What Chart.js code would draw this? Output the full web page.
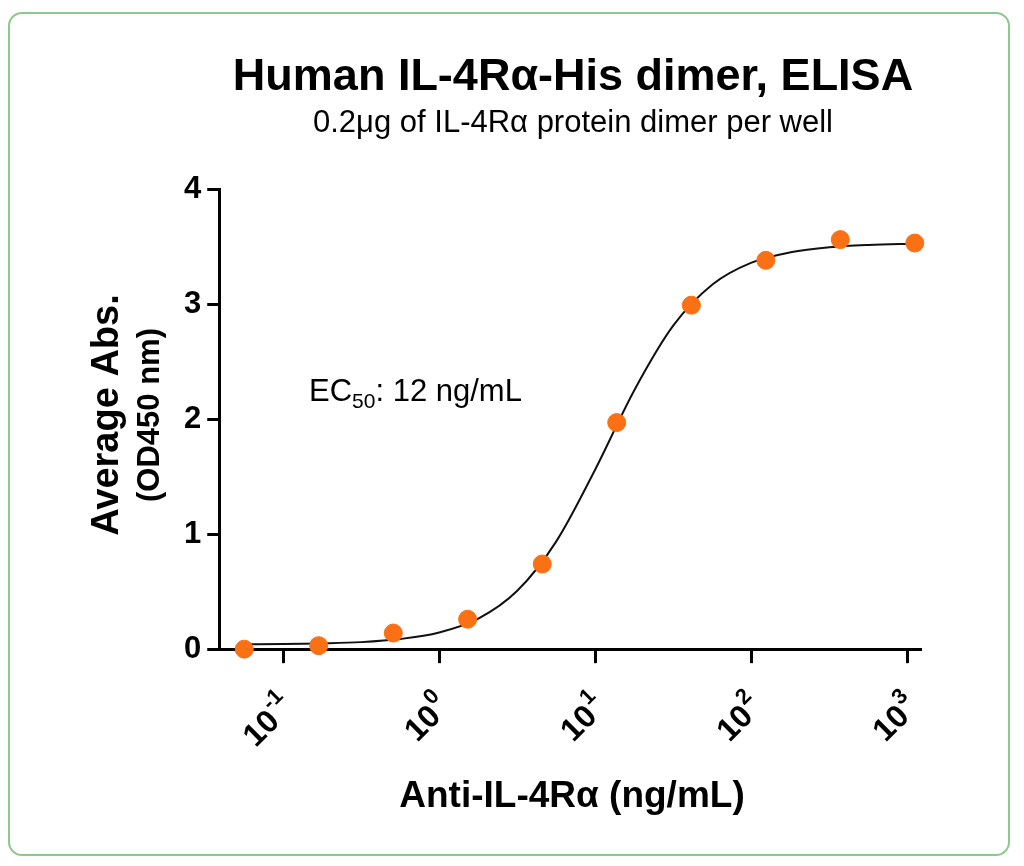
<!DOCTYPE html>
<html>
<head>
<meta charset="utf-8">
<script src="https://cdn.jsdelivr.net/npm/chart.js@4.4.1/dist/chart.umd.min.js"></script>
<style>
  html, body { margin: 0; padding: 0; background: #fff; }
  #card { position: absolute; left: 8px; top: 12px; width: 998px; height: 840px;
          border: 2px solid #8cc98c; border-radius: 14px; }
  #wrap { position: absolute; left: 0; top: 0; width: 1024px; height: 866px; }
</style>
</head>
<body>
<div id="card"></div>
<div id="wrap"><canvas id="elisa" width="1024" height="866"></canvas></div>
<script>
// measured points (ng/mL, OD450)
const conc = [0.0564, 0.169, 0.508, 1.52, 4.57, 13.7, 41.2, 123.5, 370.4, 1111.1];
const absorb = [0.00, 0.03, 0.14, 0.26, 0.74, 1.97, 2.99, 3.38, 3.56, 3.53];

// fitted curve
const fitX = [0.0562, 0.1, 0.178, 0.316, 0.562, 1, 1.78, 3.16, 5.62, 10, 17.8, 31.6, 56.2, 100, 178, 316, 562, 1122];
const fitY = [0.042, 0.044, 0.050, 0.061, 0.088, 0.145, 0.265, 0.507, 0.937, 1.564, 2.253, 2.814, 3.17, 3.36, 3.45, 3.494, 3.514, 3.525];

const xTicks = [0.1, 1, 10, 100, 1000];
const xTickExp = ['-1', '0', '1', '2', '3'];
const yTicks = [0, 1, 2, 3, 4];

const FONT = '"Liberation Sans", Arial, sans-serif';

// texts drawn by hand: titles, axis titles, x tick labels, EC50 note
const textPlugin = {
    id: 'texts',
    afterDraw(chart) {
        const ctx = chart.ctx;
        ctx.save();
        ctx.fillStyle = '#000';
        ctx.textAlign = 'center';
        ctx.textBaseline = 'middle';
        ctx.font = 'bold 45px ' + FONT;
        ctx.fillText('Human IL-4Rα-His dimer, ELISA', 573, 78);
        ctx.font = '31px ' + FONT;
        ctx.fillText('0.2μg of IL-4Rα protein dimer per well', 573, 123);
        ctx.font = 'bold 37px ' + FONT;
        ctx.fillText('Anti-IL-4Rα (ng/mL)', 572, 797);

        ctx.save();
        ctx.translate(108, 415);
        ctx.rotate(-Math.PI / 2);
        ctx.font = 'bold 38px ' + FONT;
        ctx.fillText('Average Abs.', 0, 0);
        ctx.font = 'bold 31px ' + FONT;
        ctx.fillText('(OD450 nm)', 0, 42);
        ctx.restore();

        // x tick labels with superscripts
        const xs = chart.scales.x;
        xTicks.forEach((v, i) => {
            const px = xs.getPixelForValue(v);
            ctx.save();
            ctx.translate(px + 4, 700);
            ctx.rotate(-Math.PI / 4);
            ctx.textAlign = 'right';
            ctx.textBaseline = 'alphabetic';
            ctx.font = 'bold 22px ' + FONT;
            const ew = ctx.measureText(xTickExp[i]).width;
            ctx.fillText(xTickExp[i], 0, -4);
            ctx.font = 'bold 32px ' + FONT;
            ctx.fillText('10', -ew - 1, 12);
            ctx.restore();
        });

        // EC50 label
        ctx.textAlign = 'left';
        ctx.font = '31px ' + FONT;
        let x = 309;
        ctx.fillText('EC', x, 392);
        x += ctx.measureText('EC').width;
        ctx.font = '21px ' + FONT;
        ctx.fillText('50', x, 402);
        x += ctx.measureText('50').width;
        ctx.font = '31px ' + FONT;
        ctx.fillText(': 12 ng/mL', x, 392);
        ctx.restore();
    }
};

new Chart(document.getElementById('elisa').getContext('2d'), {
    type: 'scatter',
    data: {
        datasets: [{
            type: 'line',
            data: fitX.map((v, i) => ({ x: v, y: fitY[i] })),
            borderColor: '#111',
            borderWidth: 2,
            pointRadius: 0,
            tension: 0.4,
            cubicInterpolationMode: 'monotone',
            order: 2
        }, {
            data: conc.map((v, i) => ({ x: v, y: absorb[i] })),
            backgroundColor: '#fa7014',
            borderColor: '#fa7014',
            pointRadius: 9,
            clip: false,
            order: 1
        }]
    },
    options: {
        responsive: false,
        animation: false,
        layout: { padding: { left: 178, right: 104, top: 189, bottom: 132 } },
        plugins: { legend: { display: false }, tooltip: { enabled: false } },
        scales: {
            x: {
                type: 'logarithmic',
                min: 0.039,
                max: 1200,
                afterBuildTicks: s => { s.ticks = xTicks.map(v => ({ value: v })); },
                ticks: {
                    color: 'rgba(0,0,0,0)',
                    font: { family: FONT, size: 26, weight: 'bold' },
                    maxRotation: 45, minRotation: 45,
                    padding: 6,
                    callback: (v) => '10' + xTickExp[xTicks.indexOf(v)]
                },
                grid: { drawOnChartArea: false, drawTicks: true, tickLength: 14, color: '#000', lineWidth: 3 },
                border: { color: '#000', width: 3 }
            },
            y: {
                min: 0,
                max: 4,
                afterBuildTicks: s => { s.ticks = yTicks.map(v => ({ value: v })); },
                ticks: {
                    color: '#000',
                    font: { family: FONT, size: 31, weight: 'bold' },
                    padding: 6
                },
                grid: { drawOnChartArea: false, drawTicks: true, tickLength: 12, color: '#000', lineWidth: 3 },
                border: { color: '#000', width: 3 }
            }
        }
    },
    plugins: [textPlugin]
});
</script>
</body>
</html>
